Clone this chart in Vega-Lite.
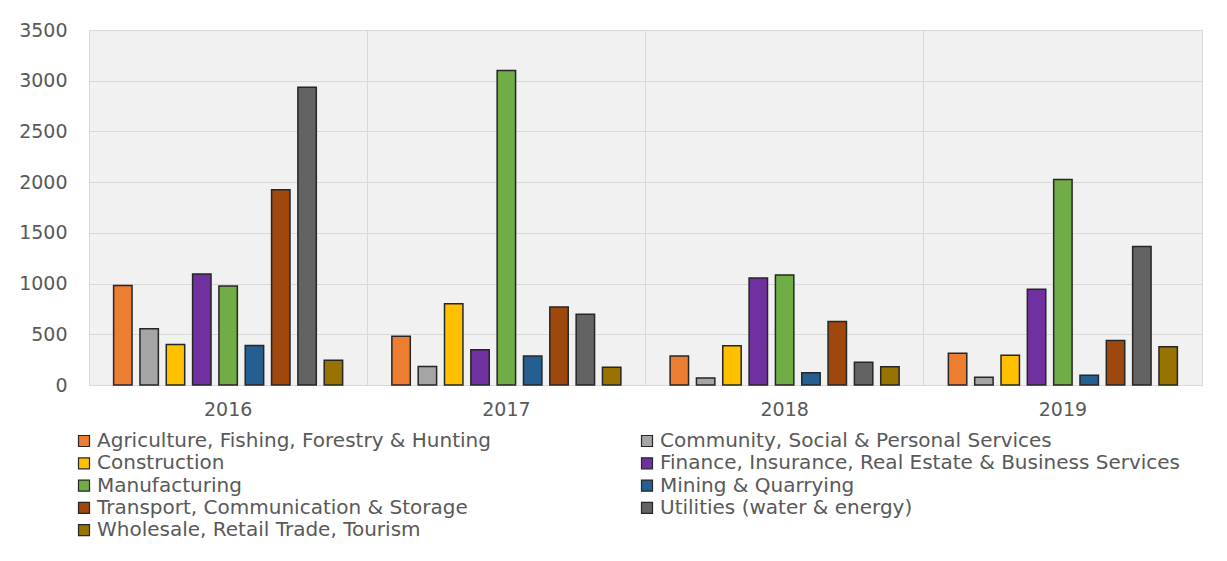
{
  "$schema": "https://vega.github.io/schema/vega-lite/v6.json",
  "width": 1113,
  "height": 355,
  "autosize": "none",
  "padding": {"left": 89, "top": 30, "right": 25, "bottom": 176},
  "background": "white",
  "config": {
    "font": "DejaVu Sans",
    "view": {"stroke": "#d9d9d9", "strokeWidth": 1, "fill": "#f1f1f1"},
    "axis": {"labelFont": "DejaVu Sans", "labelColor": "#595959", "labelFontSize": 19, "gridColor": "#d9d9d9", "gridWidth": 1, "ticks": false, "domain": false, "title": null},
    "legend": {"labelFont": "DejaVu Sans", "labelColor": "#595959", "labelFontSize": 20}
  },
  "data": {
    "values": [
      {"year": "2016", "sector": "Agriculture, Fishing, Forestry & Hunting", "value": 980},
      {"year": "2016", "sector": "Community, Social & Personal Services", "value": 555},
      {"year": "2016", "sector": "Construction", "value": 400},
      {"year": "2016", "sector": "Finance, Insurance, Real Estate & Business Services", "value": 1095},
      {"year": "2016", "sector": "Manufacturing", "value": 975},
      {"year": "2016", "sector": "Mining & Quarrying", "value": 390},
      {"year": "2016", "sector": "Transport, Communication & Storage", "value": 1925},
      {"year": "2016", "sector": "Utilities (water & energy)", "value": 2935},
      {"year": "2016", "sector": "Wholesale, Retail Trade, Tourism", "value": 243},
      {"year": "2017", "sector": "Agriculture, Fishing, Forestry & Hunting", "value": 480},
      {"year": "2017", "sector": "Community, Social & Personal Services", "value": 183},
      {"year": "2017", "sector": "Construction", "value": 800},
      {"year": "2017", "sector": "Finance, Insurance, Real Estate & Business Services", "value": 348},
      {"year": "2017", "sector": "Manufacturing", "value": 3100},
      {"year": "2017", "sector": "Mining & Quarrying", "value": 285},
      {"year": "2017", "sector": "Transport, Communication & Storage", "value": 768},
      {"year": "2017", "sector": "Utilities (water & energy)", "value": 698},
      {"year": "2017", "sector": "Wholesale, Retail Trade, Tourism", "value": 175},
      {"year": "2018", "sector": "Agriculture, Fishing, Forestry & Hunting", "value": 285},
      {"year": "2018", "sector": "Community, Social & Personal Services", "value": 70},
      {"year": "2018", "sector": "Construction", "value": 387},
      {"year": "2018", "sector": "Finance, Insurance, Real Estate & Business Services", "value": 1055},
      {"year": "2018", "sector": "Manufacturing", "value": 1085},
      {"year": "2018", "sector": "Mining & Quarrying", "value": 120},
      {"year": "2018", "sector": "Transport, Communication & Storage", "value": 625},
      {"year": "2018", "sector": "Utilities (water & energy)", "value": 224},
      {"year": "2018", "sector": "Wholesale, Retail Trade, Tourism", "value": 180},
      {"year": "2019", "sector": "Agriculture, Fishing, Forestry & Hunting", "value": 313},
      {"year": "2019", "sector": "Community, Social & Personal Services", "value": 77},
      {"year": "2019", "sector": "Construction", "value": 293},
      {"year": "2019", "sector": "Finance, Insurance, Real Estate & Business Services", "value": 945},
      {"year": "2019", "sector": "Manufacturing", "value": 2027},
      {"year": "2019", "sector": "Mining & Quarrying", "value": 96},
      {"year": "2019", "sector": "Transport, Communication & Storage", "value": 438},
      {"year": "2019", "sector": "Utilities (water & energy)", "value": 1366},
      {"year": "2019", "sector": "Wholesale, Retail Trade, Tourism", "value": 376}
    ]
  },
  "mark": {"type": "bar", "stroke": "#262626", "strokeWidth": 1.5},
  "encoding": {
    "x": {
      "field": "year", "type": "nominal",
      "scale": {"paddingInner": 0, "paddingOuter": 0},
      "axis": {"labelAngle": 0, "grid": true, "bandPosition": 0, "labelPadding": 15}
    },
    "xOffset": {
      "field": "sector", "type": "nominal",
      "sort": ["Agriculture, Fishing, Forestry & Hunting", "Community, Social & Personal Services", "Construction", "Finance, Insurance, Real Estate & Business Services", "Manufacturing", "Mining & Quarrying", "Transport, Communication & Storage", "Utilities (water & energy)", "Wholesale, Retail Trade, Tourism"],
      "scale": {"paddingInner": 0.3, "paddingOuter": 0.935}
    },
    "y": {
      "field": "value", "type": "quantitative",
      "scale": {"domain": [0, 3500]},
      "axis": {"values": [0, 500, 1000, 1500, 2000, 2500, 3000, 3500], "format": "d", "labelPadding": 22, "grid": true}
    },
    "color": {
      "field": "sector", "type": "nominal",
      "scale": {
        "domain": ["Agriculture, Fishing, Forestry & Hunting", "Construction", "Manufacturing", "Transport, Communication & Storage", "Wholesale, Retail Trade, Tourism", "Community, Social & Personal Services", "Finance, Insurance, Real Estate & Business Services", "Mining & Quarrying", "Utilities (water & energy)"],
        "range": ["#ED7D31", "#FFC000", "#70AD47", "#9E480E", "#997300", "#A5A5A5", "#7030A0", "#255E91", "#636363"]
      },
      "legend": {
        "title": null, "orient": "none", "legendX": -15, "legendY": 401,
        "columns": 2, "columnPadding": 146, "rowPadding": 2.3,
        "symbolType": "square", "symbolSize": 121, "symbolStrokeColor": "#262626", "symbolStrokeWidth": 1.2, "symbolOpacity": 1,
        "labelOffset": 3, "labelLimit": 700
      }
    }
  }
}
